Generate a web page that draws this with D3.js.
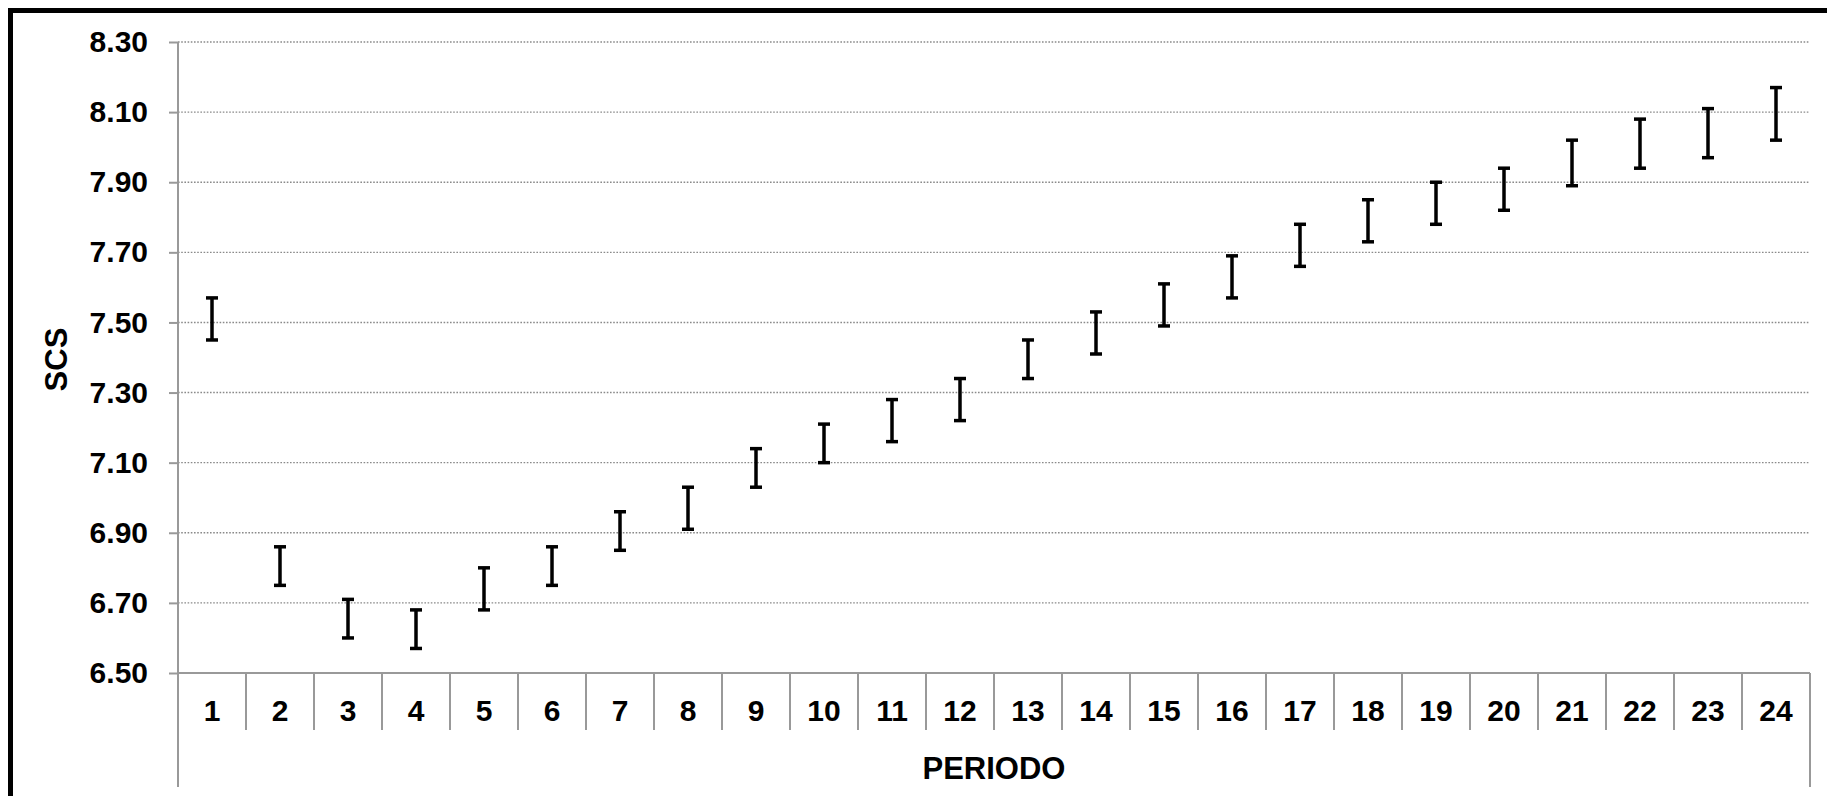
<!DOCTYPE html>
<html>
<head>
<meta charset="utf-8">
<script src="https://cdn.jsdelivr.net/npm/d3@7"></script>
<style>
  body { margin: 0; background: #fff; overflow: hidden; }
  text { font-family: 'Liberation Sans', Arial, sans-serif; font-weight: bold; fill: #000; }
</style>
</head>
<body>
<div id="chart"></div>
<script>
// periods on the x axis
const periods = d3.range(1, 25).map(String);
// upper and lower ends of each error bar (SCS)
const upper = [7.57, 6.86, 6.71, 6.68, 6.80, 6.86, 6.96, 7.03, 7.14, 7.21, 7.28, 7.34,
               7.45, 7.53, 7.61, 7.69, 7.78, 7.85, 7.90, 7.94, 8.02, 8.08, 8.11, 8.17];
const lower = [7.45, 6.75, 6.60, 6.57, 6.68, 6.75, 6.85, 6.91, 7.03, 7.10, 7.16, 7.22,
               7.34, 7.41, 7.49, 7.57, 7.66, 7.73, 7.78, 7.82, 7.89, 7.94, 7.97, 8.02];
const yTicks = [6.5, 6.7, 6.9, 7.1, 7.3, 7.5, 7.7, 7.9, 8.1, 8.3];

const width = 1827, height = 796;
const margin = {top: 42, right: 17, bottom: 123, left: 178};

const svg = d3.select('#chart')
  .append('svg')
    .attr('width', width)
    .attr('height', height);

// outer frame (only top and left edges fall inside the picture)
svg.append('rect')
  .attr('x', 10.5).attr('y', 10.5)
  .attr('width', width + 50).attr('height', height + 50)
  .attr('fill', 'none')
  .attr('stroke', '#000')
  .attr('stroke-width', 5);

const x = d3.scaleBand()
  .domain(periods)
  .range([margin.left, width - margin.right])
  .padding(0);

const y = d3.scaleLinear()
  .domain([6.5, 8.3])
  .range([height - margin.bottom, margin.top]);

const x0 = x.range()[0], x1 = x.range()[1];
const yBase = y(6.5);

// dotted gridlines
svg.append('g')
  .selectAll('line')
  .data(yTicks.slice(1))
  .join('line')
    .attr('x1', x0).attr('x2', x1)
    .attr('y1', (d) => y(d)).attr('y2', (d) => y(d))
    .attr('stroke', '#8a8a8a')
    .attr('stroke-width', 1.4)
    .attr('stroke-dasharray', '1.6,1.6');

// y axis
const yAxis = svg.append('g')
  .attr('transform', `translate(${x0},0)`)
  .call(d3.axisLeft(y).tickValues(yTicks).tickFormat(d3.format('.2f')).tickSize(9).tickPadding(21));
yAxis.select('.domain').remove();
yAxis.selectAll('.tick line').attr('stroke', '#999').attr('stroke-width', 2);
yAxis.selectAll('.tick text').style('font-size', '30px');

// axis lines
svg.append('line')
  .attr('x1', x0).attr('x2', x0)
  .attr('y1', y(8.3)).attr('y2', yBase + 114)
  .attr('stroke', '#999').attr('stroke-width', 2);
svg.append('line')
  .attr('x1', x0).attr('x2', x1)
  .attr('y1', yBase).attr('y2', yBase)
  .attr('stroke', '#999').attr('stroke-width', 2);

// category separators
const bounds = periods.map((p) => x(p)).concat([x1]);
svg.append('g')
  .selectAll('line')
  .data(bounds)
  .join('line')
    .attr('x1', (d) => d).attr('x2', (d) => d)
    .attr('y1', yBase)
    .attr('y2', (d, i) => (i === 0 || i === bounds.length - 1) ? yBase + 114 : yBase + 57)
    .attr('stroke', '#999').attr('stroke-width', 2);

// x axis labels
const xAxis = svg.append('g')
  .attr('transform', `translate(0,${yBase})`)
  .call(d3.axisBottom(x).tickSize(0).tickPadding(27));
xAxis.select('.domain').remove();
xAxis.selectAll('.tick text').style('font-size', '30px');

// axis titles
svg.append('text')
  .attr('x', (x0 + x1) / 2)
  .attr('y', 779)
  .attr('text-anchor', 'middle')
  .style('font-size', '31px')
  .text('PERIODO');

svg.append('text')
  .attr('transform', `translate(67,${(y(8.3) + yBase) / 2 + 2}) rotate(-90)`)
  .attr('text-anchor', 'middle')
  .style('font-size', '31px')
  .text('SCS');

// error bars
const bars = svg.append('g')
  .selectAll('g')
  .data(periods.map((p, i) => ({p: p, hi: upper[i], lo: lower[i]})))
  .join('g')
    .attr('transform', (d) => `translate(${x(d.p) + x.bandwidth() / 2},0)`)
    .attr('stroke', '#000')
    .attr('stroke-width', 3.5);

bars.append('line')
  .attr('x1', 0).attr('x2', 0)
  .attr('y1', (d) => y(d.hi)).attr('y2', (d) => y(d.lo));
bars.append('line')
  .attr('x1', -6).attr('x2', 6)
  .attr('y1', (d) => y(d.hi)).attr('y2', (d) => y(d.hi));
bars.append('line')
  .attr('x1', -6).attr('x2', 6)
  .attr('y1', (d) => y(d.lo)).attr('y2', (d) => y(d.lo));
</script>
</body>
</html>
